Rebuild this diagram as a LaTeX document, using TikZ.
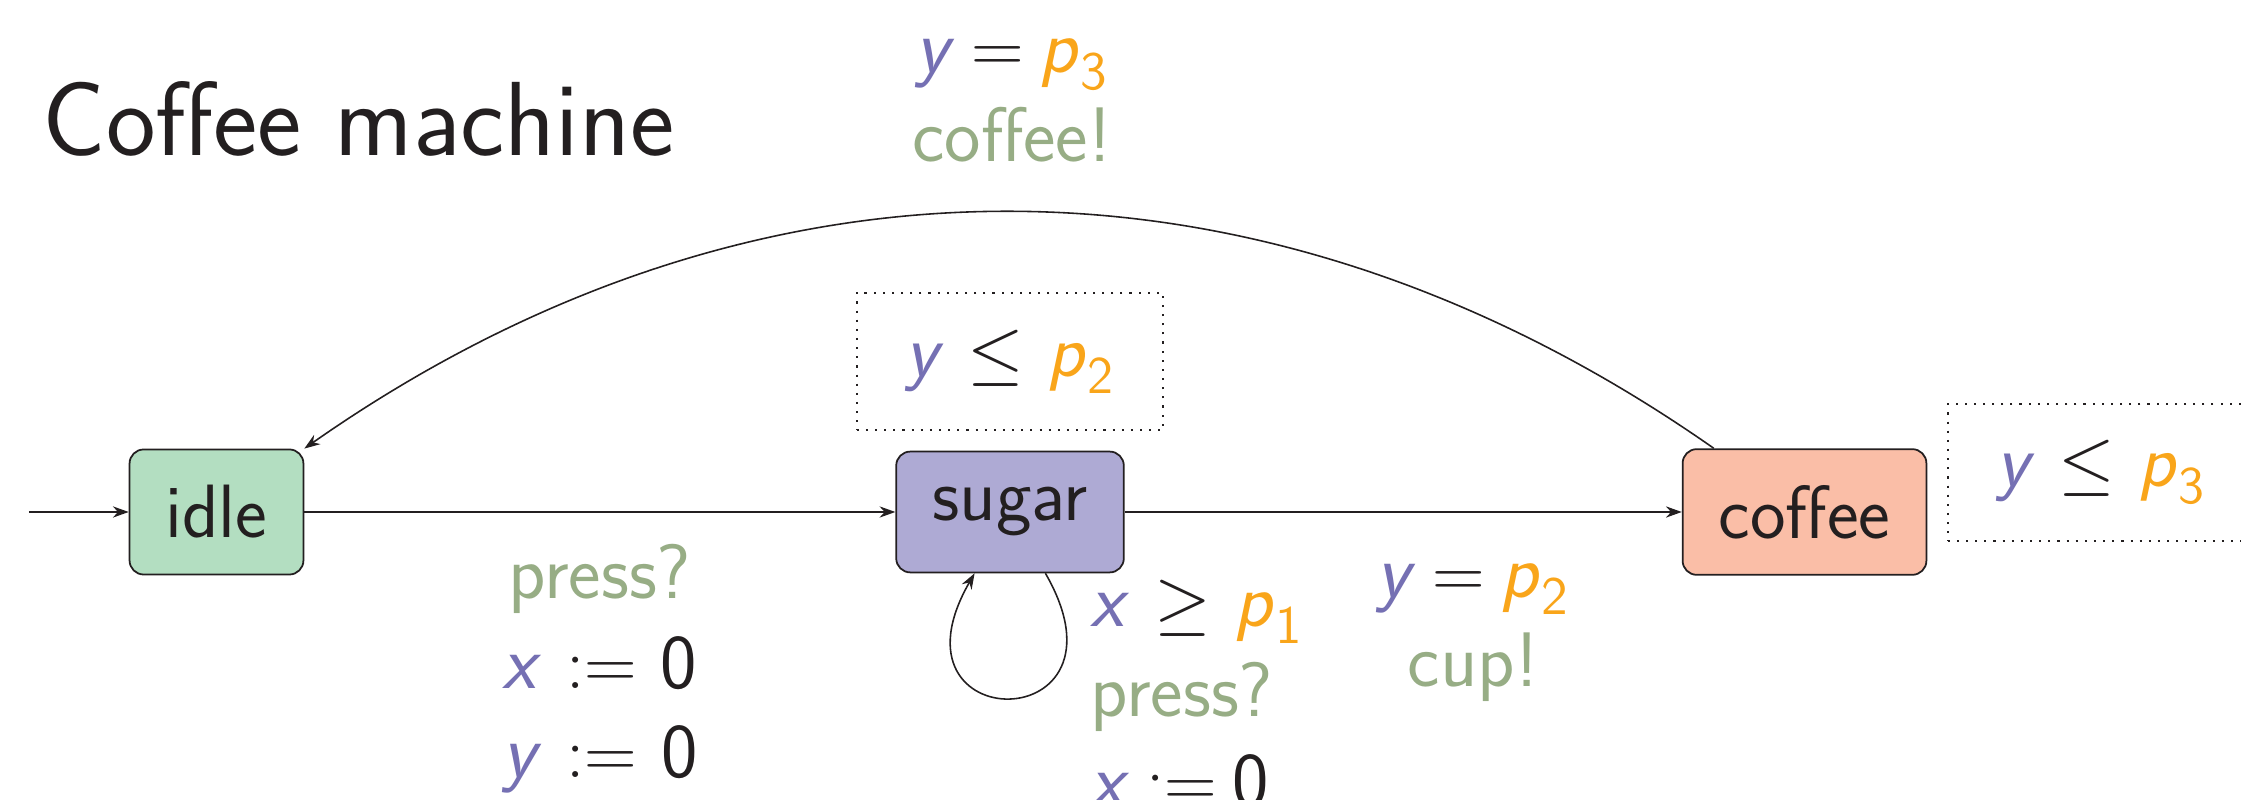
\documentclass[tikz,border=0pt]{standalone}
\usepackage{fontspec}
\usepackage{amsmath}
\usetikzlibrary{arrows.meta}
\definecolor{vpurple}{HTML}{7570B3}
\definecolor{porange}{HTML}{F9A51A}
\definecolor{lgreen}{HTML}{97AD85}
\definecolor{idlefill}{HTML}{B3DEC1}
\definecolor{sugarfill}{HTML}{AEAAD4}
\definecolor{coffeefill}{HTML}{FABEA7}
\definecolor{ink}{HTML}{231F20}
\newcommand{\vy}{\textcolor{vpurple}{\textit{y}}}
\newcommand{\vx}{\textcolor{vpurple}{\textit{x}}}
\newcommand{\vp}[1]{\textcolor{porange}{$\text{\textit{p}}_{\text{#1}}$}}
\newcommand{\act}[1]{\textcolor{lgreen}{#1}}
\begin{document}
\begin{tikzpicture}[
  locbox/.style={draw=ink, line width=0.5pt, rounded corners=4pt, inner sep=0.36cm, text=ink,
    font=\sffamily\fontsize{21.5}{25}\selectfont},
  invbox/.style={draw=ink, dotted, line width=0.6pt, minimum width=3.065cm, minimum height=1.37cm,
    inner sep=0pt, text=ink, font=\sffamily\fontsize{21.5}{25}\selectfont},
  edgeline/.style={-{Stealth[length=4.5pt,width=3.2pt]}, line width=0.45pt, draw=ink},
  lbl/.style={inner sep=0pt, text=ink, align=center, font=\sffamily\fontsize{22}{25.6}\selectfont}
]
\useasboundingbox (0,0) rectangle (22.41,8);
\clip (0,0) rectangle (22.41,8);
\node[anchor=base west, inner sep=0pt, text=ink, font=\sffamily\fontsize{30}{36}\selectfont] (title) at (0.42,6.44) {Coffee machine};
\node[locbox, fill=idlefill] (idle) at (2.165,2.88) {idle};
\node[locbox, fill=sugarfill] (sugar) at (10.10,2.88) {sugar};
\node[locbox, fill=coffeefill] (coffee) at (18.045,2.88) {coffee};
\node[invbox] (invsugar) at (10.10,4.385) {\vy{} $\leq$ \vp{2}};
\node[invbox] (invcoffee) at (21.01,3.275) {\vy{} $\leq$ \vp{3}};
\coordinate (init) at (0.29,2.88);
\draw[edgeline] (init) -- (idle);
\draw[edgeline] (idle) -- (sugar);
\draw[edgeline] (sugar) -- (coffee);
\draw[edgeline] ([xshift=0.32cm]coffee.north west) to[out=145,in=35] (idle.north east);
\draw[edgeline] (sugar.-60) .. controls +(-60:1.92cm) and +(-120:1.92cm) .. (sugar.-120);
\node[lbl, anchor=base] (lpress) at (6.00,0.22) {\act{press?}\\ \vx{} $:=$ 0\\ \vy{} $:=$ 0};
\node[lbl, align=left, anchor=base west] (lloop) at (10.90,-0.06) {\vx{} $\geq$ \vp{1}\\ \act{press?}\\ \vx$\:{:=}\:$0};
\node[lbl, anchor=base] (lcup) at (14.73,1.13) {\vy$\:=\:$\vp{2}\\ \act{cup!}};
\node[lbl, anchor=base] (lcof) at (10.12,6.38) {\vy$\:=\:$\vp{3}\\ \act{coffee!}};
\end{tikzpicture}
\end{document}
